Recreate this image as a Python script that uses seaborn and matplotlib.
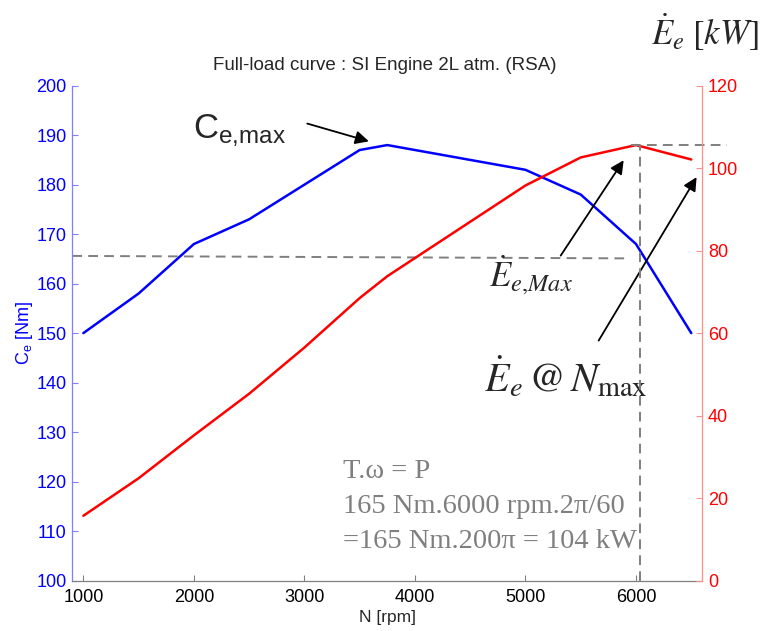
import matplotlib
matplotlib.use('Agg')
import matplotlib.pyplot as plt
import seaborn as sns
import pandas as pd

# ---- data ----
rpm = [1000, 1500, 2000, 2500, 3000, 3500, 3750, 5000, 5500, 6000, 6500]
torque_nm = [150, 158, 168, 173, 180, 187, 188, 183, 178, 168, 150]
power_kw = [15.7, 24.8, 35.2, 45.3, 56.5, 68.5, 73.8, 95.8, 102.6, 105.6, 102.1]
x_ticks = [1000, 2000, 3000, 4000, 5000, 6000]
torque_ticks = [100, 110, 120, 130, 140, 150, 160, 170, 180, 190, 200]
power_ticks = [0, 20, 40, 60, 80, 100, 120]
torque_ref = [165.6, 165.1]      # dashed horizontal (left axis)
torque_ref_x = [900, 5940]
power_ref = 105.6                # dashed horizontal at max power (right axis)
power_ref_x = [5958, 6826]
rpm_ref = 6040                   # dashed vertical

sns.set_theme(style='white')
plt.rcParams['font.family'] = ['Liberation Sans', 'DejaVu Sans']
plt.rcParams['mathtext.fontset'] = 'custom'
plt.rcParams['mathtext.rm'] = 'Liberation Sans'
plt.rcParams['mathtext.it'] = 'Liberation Sans:italic'
plt.rcParams['mathtext.bf'] = 'Liberation Sans:bold'

df = pd.DataFrame({'rpm': rpm, 'torque': torque_nm, 'power': power_kw})

fig = plt.figure(figsize=(7.7, 6.31), dpi=100)
ax = fig.add_axes([0.0939, 0.0800, 0.8182, 0.7842])
ax2 = ax.twinx()

sns.lineplot(data=df, x='rpm', y='torque', ax=ax, color='#0000ff', lw=1.8)
sns.lineplot(data=df, x='rpm', y='power', ax=ax2, color='#ff0000', lw=1.8)

gray = '#7f7f7f'
dash = dict(color=gray, lw=1.4, dashes=(5, 3.2))
ax.plot(torque_ref_x, torque_ref, **dash)
ax2.plot([rpm_ref, rpm_ref], [0, power_ref], **dash)
ax2.plot(power_ref_x, [power_ref, power_ref], clip_on=False, **dash)

ax.set_xlim(900, 6600)
ax.set_ylim(100, 200)
ax2.set_ylim(0, 120)
ax.set_xticks(x_ticks)
ax.set_yticks(torque_ticks)
ax2.set_yticks(power_ticks)

# spines
for s in ['top', 'right']:
    ax.spines[s].set_visible(False)
for s in ['top', 'left', 'bottom']:
    ax2.spines[s].set_visible(False)
ax.spines['left'].set_color('#7f7fff')
ax.spines['bottom'].set_color('#808080')
ax2.spines['right'].set_color('#ff8f8f')
for sp in [ax.spines['left'], ax.spines['bottom'], ax2.spines['right']]:
    sp.set_linewidth(0.9)

ax.tick_params(axis='y', direction='in', length=4.5, width=0.8, color='#7f7fff',
               labelcolor='#0000ff', labelsize=13, pad=4, left=True)
ax.tick_params(axis='x', direction='in', length=4.5, width=0.8, color='#808080',
               labelcolor='black', labelsize=13, pad=6, bottom=True)
ax2.tick_params(axis='y', direction='in', length=4.5, width=0.8, color='#ff8f8f',
                labelcolor='#ff0000', labelsize=13, pad=4, right=True)

ax.set_xlabel('N [rpm]', fontsize=12.5, labelpad=3)
ax.set_ylabel(r'$\mathrm{C_e}$ [Nm]', fontsize=13, color='#0000ff', labelpad=1)
ax2.set_ylabel('')
ax.grid(False)
ax2.grid(False)

fig.text(0.5, 1 - 65 / 631, 'Full-load curve : SI Engine 2L atm. (RSA)',
         ha='center', va='center', fontsize=13.5)

# annotations
arrow = dict(arrowstyle='-|>', color='black', lw=1.3, mutation_scale=20)
ax.text(1990, 189.4, r'$\mathrm{C}_{\mathrm{e{,}max}}$', fontsize=25, ha='left', va='baseline')
ax.annotate('', xy=(3607, 188.6), xytext=(3002, 192.5), arrowprops=arrow)

ax.text(4673, 159.3, r'$\dot{E}_{e{,}Max}$', fontsize=25, ha='left', va='baseline',
        math_fontfamily='stix')
ax.annotate('', xy=(5902, 185.4), xytext=(5305, 165.2), arrowprops=arrow)

ax.text(4628, 138.1, r'$\dot{E}_e\,@\,N_{\mathrm{max}}$', fontsize=29, ha='left',
        va='baseline', math_fontfamily='stix')
ax.annotate('', xy=(6561, 182.0), xytext=(5649, 148.0), arrowprops=arrow)

ax.text(6136, 208.2, r'$\dot{E}_e\;[kW]$', fontsize=25, ha='left', va='baseline',
        math_fontfamily='stix', clip_on=False)

serif = ['Liberation Serif', 'DejaVu Serif']
for ytxt, s in [(120.7, 'T.ω = P'), (113.6, '165 Nm.6000 rpm.2π/60'),
                (106.6, '=165 Nm.200π = 104 kW')]:
    ax.text(3346, ytxt, s, family=serif, fontsize=20.5, color=gray,
            ha='left', va='baseline')

fig.savefig('out.png', dpi=100)
